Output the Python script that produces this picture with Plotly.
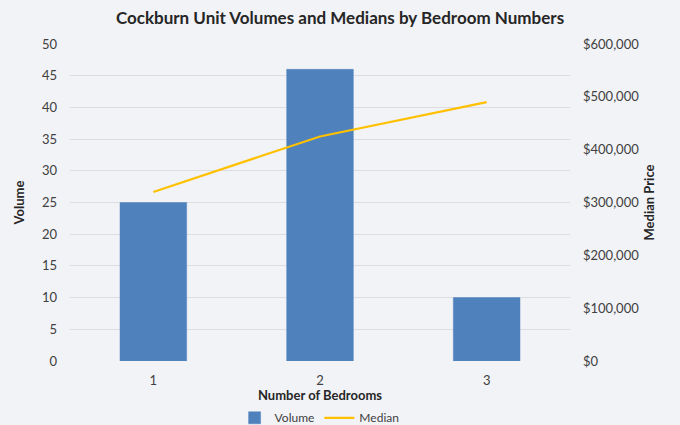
import plotly.graph_objects as go

bedrooms = ["1", "2", "3"]
volumes = [25, 46, 10]
medians = [320000, 425000, 490000]

FONT = "Lato, 'Open Sans', sans-serif"
TEXT = "#404040"

fig = go.Figure()
fig.add_trace(go.Bar(
    x=bedrooms, y=volumes, name="Volume",
    marker=dict(color="#4F81BD", line=dict(color="#5585c0", width=0.5)),
    width=0.4, yaxis="y",
))
fig.add_trace(go.Scatter(
    x=bedrooms, y=medians, name="Median", mode="lines",
    line=dict(color="#FFC000", width=2.2), yaxis="y2",
))

fig.update_layout(
    width=680, height=425,
    margin=dict(l=70, r=110, t=44, b=64, autoexpand=False),
    paper_bgcolor="#F2F3F7", plot_bgcolor="#F2F3F7",
    font=dict(family=FONT, size=13, color=TEXT),
    title=dict(text="<b>Cockburn Unit Volumes and Medians by Bedroom Numbers</b>",
               x=0.5, xanchor="center", y=0.958, yanchor="middle",
               font=dict(size=17, color="#262626")),
    xaxis=dict(
        type="category", range=[-0.5, 2.5],
        showgrid=False, zeroline=False, showline=False, ticks="",
        ticklabelstandoff=10,
        tickfont=dict(size=13, color=TEXT),
        title=dict(text="<b>Number of Bedrooms</b>", standoff=6,
                   font=dict(size=13, color="#262626")),
    ),
    yaxis=dict(
        range=[0, 50], dtick=5, showgrid=True, gridcolor="#DCDDE0", gridwidth=1,
        zeroline=False, showline=False, ticks="",
        ticklabelstandoff=12,
        tickfont=dict(size=13, color=TEXT),
        title=dict(text="<b>Volume</b>", standoff=14,
                   font=dict(size=13, color="#262626")),
    ),
    yaxis2=dict(
        range=[0, 600000], dtick=100000, overlaying="y", side="right",
        showgrid=False, zeroline=False, showline=False, ticks="",
        ticklabelstandoff=12,
        tickprefix="$", tickformat=",.0f",
        tickfont=dict(size=13, color=TEXT),
        title=dict(text="<b>Median Price</b>", standoff=6,
                   font=dict(size=13, color="#262626")),
    ),
    legend=dict(orientation="h", x=0.47, xanchor="center", xref="container",
                y=0.017, yanchor="middle", yref="container",
                font=dict(size=12, color=TEXT), bgcolor="rgba(0,0,0,0)",
                itemwidth=30, tracegroupgap=0),
)

fig.write_html("out.html")
